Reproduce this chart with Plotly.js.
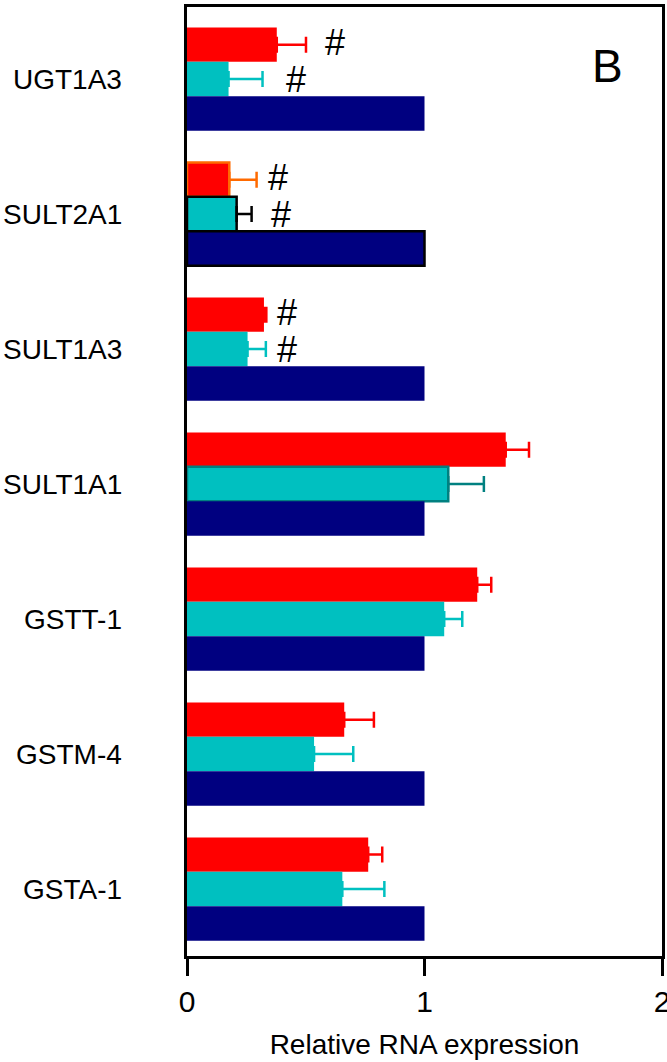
<!DOCTYPE html>
<html>
<head>
<meta charset="utf-8">
<script src="https://cdn.plot.ly/plotly-3.0.1.min.js"></script>
<style>html,body{margin:0;padding:0;background:#fff;}#chart{width:667px;height:1062px;}</style>
</head>
<body>
<div id="chart"></div>
<script>
// ---- data ----
const categories = ['UGT1A3', 'SULT2A1', 'SULT1A3', 'SULT1A1', 'GSTT-1', 'GSTM-4', 'GSTA-1'];
const redValues  = [0.378, 0.178, 0.324, 1.342, 1.222, 0.662, 0.763];
const redErrors  = [0.123, 0.115, 0.010, 0.098, 0.059, 0.125, 0.059];
const cyanValues = [0.175, 0.209, 0.255, 1.100, 1.083, 0.535, 0.654];
const cyanErrors = [0.143, 0.063, 0.077, 0.150, 0.076, 0.165, 0.177];
const controlValues = [1, 1, 1, 1, 1, 1, 1];
const redSig  = ['#', '#', '#', '', '', '', ''];
const cyanSig = ['#', '#', '#', '', '', '', ''];
const redSigX  = [0.623, 0.383, 0.421, null, null, null, null];
const cyanSigX = [0.459, 0.396, 0.421, null, null, null, null];
const xTicks = [0, 1, 2];
const xTitle = 'Relative RNA expression';
const panelLabel = 'B';

// ---- styles ----
const FONT = '"Liberation Sans", Arial, sans-serif';
const RED = '#ff0000', CYAN = '#00c0c0', NAVY = '#000080', TEAL = '#008080', ORANGE = '#ff6a00';
const redLineColors  = [RED, ORANGE, RED, RED, RED, RED, RED];
const redLineWidths  = [0, 2.5, 0, 0, 0, 0, 0];
const redErrColors   = [RED, ORANGE, RED, RED, RED, RED, RED];
const cyanLineColors = [CYAN, 'black', CYAN, TEAL, CYAN, CYAN, CYAN];
const cyanLineWidths = [0, 2.5, 0, 2.5, 0, 0, 0];
const cyanErrColors  = [CYAN, 'black', CYAN, TEAL, CYAN, CYAN, CYAN];
const navyLineColors = [NAVY, 'black', NAVY, NAVY, NAVY, NAVY, NAVY];
const navyLineWidths = [0, 2.5, 0, 0, 0, 0, 0];

const bargap = 0.235;
const slot = (1 - bargap) / 3;

function barTrace(vals, color, lc, lw, group) {
  return {
    type: 'bar', orientation: 'h', y: categories, x: vals, offsetgroup: group,
    marker: {color: color, line: {color: lc, width: lw}},
    hoverinfo: 'x'
  };
}
function errTraces(vals, errs, colors, group) {
  const out = [];
  const uniq = [...new Set(colors)];
  uniq.forEach(c => {
    out.push({
      type: 'bar', orientation: 'h', y: categories, offsetgroup: group,
      x: vals.map((v, i) => colors[i] === c ? v : null),
      marker: {color: 'rgba(0,0,0,0)', line: {width: 0}},
      error_x: {type: 'data', symmetric: false,
        array: errs.map((e, i) => colors[i] === c ? e : null),
        arrayminus: errs.map(() => 0),
        color: c, thickness: 2.5, width: 8},
      hoverinfo: 'skip'
    });
  });
  return out;
}

const data = [
  barTrace(redValues, RED, redLineColors, redLineWidths, 'a'),
  barTrace(cyanValues, CYAN, cyanLineColors, cyanLineWidths, 'b'),
  barTrace(controlValues, NAVY, navyLineColors, navyLineWidths, 'c'),
  ...errTraces(redValues, redErrors, redErrColors, 'a'),
  ...errTraces(cyanValues, cyanErrors, cyanErrColors, 'b')
];

const annotations = [];
// category labels on the left, right-aligned
categories.forEach((c, i) => {
  annotations.push({xref: 'paper', yref: 'y', x: -0.132, y: i, text: c,
    xanchor: 'right', yanchor: 'middle', showarrow: false,
    font: {family: FONT, size: 28, color: 'black'}});
});
categories.forEach((c, i) => {
  if (redSig[i]) annotations.push({xref: 'x', yref: 'y', x: redSigX[i], y: i - slot,
    xanchor: 'center', yanchor: 'middle', yshift: 2,
    text: redSig[i], showarrow: false, font: {family: FONT, size: 36, color: 'black'}});
  if (cyanSig[i]) annotations.push({xref: 'x', yref: 'y', x: cyanSigX[i], y: i,
    xanchor: 'center', yanchor: 'middle',
    text: cyanSig[i], showarrow: false, font: {family: FONT, size: 36, color: 'black'}});
});
annotations.push({xref: 'paper', yref: 'paper', x: 0.886, y: 0.938, text: panelLabel,
  xanchor: 'center', yanchor: 'middle',
  showarrow: false, font: {family: FONT, size: 46, color: 'black'}});

const layout = {
  width: 667, height: 1062,
  margin: {l: 187, r: 5, t: 7, b: 106, pad: 0},
  paper_bgcolor: 'white', plot_bgcolor: 'white',
  barmode: 'group', bargap: bargap, bargroupgap: 0,
  showlegend: false,
  font: {family: FONT, size: 28, color: 'black'},
  xaxis: {
    range: [0, 2], tickvals: xTicks, ticktext: xTicks.map(String),
    ticks: 'outside', ticklen: 17, tickwidth: 3, tickcolor: 'black',
    ticklabeloverflow: 'allow',
    showline: true, linewidth: 3, linecolor: 'black', mirror: true,
    showgrid: false, zeroline: false,
    tickfont: {family: FONT, size: 30, color: 'black'},
    title: {text: xTitle, font: {family: FONT, size: 28, color: 'black'}, standoff: 18}
  },
  yaxis: {
    type: 'category', categoryorder: 'array', categoryarray: categories,
    range: [6.496, -0.534],
    showline: true, linewidth: 3, linecolor: 'black', mirror: true,
    showgrid: false, zeroline: false, ticks: '', showticklabels: false
  },
  annotations: annotations
};

Plotly.newPlot('chart', data, layout, {displayModeBar: false, staticPlot: true});
</script>
</body>
</html>
